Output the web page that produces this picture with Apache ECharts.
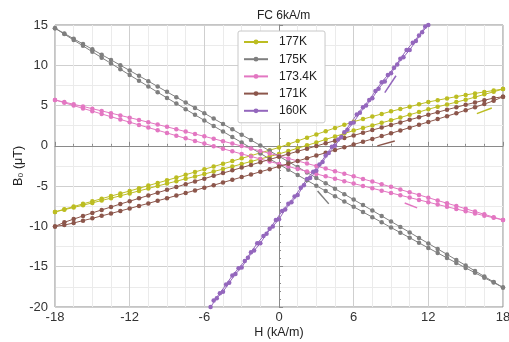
<!DOCTYPE html>
<html>
<head>
<meta charset="utf-8">
<script src="https://cdn.jsdelivr.net/npm/echarts@6/dist/echarts.min.js"></script>
<style>html,body{margin:0;padding:0;background:#fff}#c{width:509px;height:342px}</style>
</head>
<body>
<div id="c"></div>
<script>
// ---- data (H in kA/m, B0 in µT) ----
const H = [-18,-17.25,-16.5,-15.75,-15,-14.25,-13.5,-12.75,-12,-11.25,-10.5,-9.75,-9,-8.25,-7.5,-6.75,-6,-5.25,-4.5,-3.75,-3,-2.25,-1.5,-0.75,0,0.75,1.5,2.25,3,3.75,4.5,5.25,6,6.75,7.5,8.25,9,9.75,10.5,11.25,12,12.75,13.5,14.25,15,15.75,16.5,17.25,18];

const B177_up = [-8.20,-7.86,-7.53,-7.20,-6.88,-6.56,-6.23,-5.92,-5.60,-5.27,-4.93,-4.60,-4.28,-3.93,-3.59,-3.24,-2.90,-2.57,-2.22,-1.89,-1.55,-1.22,-0.87,-0.54,-0.20,0.21,0.61,1.02,1.42,1.82,2.22,2.61,3.00,3.32,3.64,3.96,4.28,4.57,4.86,5.16,5.45,5.67,5.89,6.11,6.32,6.51,6.69,6.87,7.05];
const B177_dn = [-8.20,-7.92,-7.65,-7.36,-7.08,-6.78,-6.49,-6.20,-5.90,-5.59,-5.29,-4.98,-4.68,-4.39,-4.09,-3.80,-3.50,-3.19,-2.88,-2.57,-2.25,-1.94,-1.63,-1.32,-1.00,-0.65,-0.29,0.06,0.42,0.80,1.16,1.53,1.90,2.22,2.54,2.86,3.18,3.51,3.86,4.20,4.55,4.85,5.13,5.43,5.72,6.05,6.39,6.71,7.05];

const B175_up = [14.60,13.95,13.29,12.64,11.98,11.32,10.67,10.01,9.35,8.69,8.03,7.36,6.70,6.04,5.38,4.71,4.05,3.38,2.72,2.05,1.38,0.72,0.05,-0.62,-1.29,-1.96,-2.63,-3.30,-3.98,-4.65,-5.32,-6.00,-6.67,-7.35,-8.02,-8.70,-9.38,-10.06,-10.74,-11.43,-12.11,-12.79,-13.47,-14.16,-14.84,-15.52,-16.21,-16.89,-17.58];
const B175_dn = [14.60,13.87,13.13,12.41,11.67,10.95,10.23,9.51,8.79,8.08,7.37,6.65,5.95,5.25,4.55,3.85,3.16,2.46,1.78,1.09,0.41,-0.26,-0.94,-1.62,-2.29,-2.96,-3.62,-4.28,-4.95,-5.61,-6.26,-6.92,-7.56,-8.21,-8.85,-9.49,-10.13,-10.77,-11.40,-12.04,-12.67,-13.29,-13.91,-14.53,-15.15,-15.75,-16.37,-16.97,-17.58];

const B173_up = [5.70,5.43,5.16,4.89,4.61,4.34,4.06,3.78,3.50,3.22,2.93,2.64,2.36,2.06,1.77,1.47,1.18,0.88,0.58,0.28,-0.02,-0.33,-0.63,-0.94,-1.25,-1.56,-1.87,-2.19,-2.50,-2.82,-3.14,-3.46,-3.78,-4.11,-4.43,-4.76,-5.09,-5.43,-5.76,-6.09,-6.43,-6.78,-7.12,-7.46,-7.81,-8.15,-8.50,-8.85,-9.20];
const B173_dn = [5.70,5.35,5.00,4.65,4.31,3.96,3.62,3.28,2.94,2.60,2.27,1.94,1.60,1.26,0.93,0.61,0.28,-0.04,-0.36,-0.68,-1.00,-1.31,-1.63,-1.94,-2.25,-2.56,-2.87,-3.17,-3.48,-3.78,-4.08,-4.38,-4.68,-4.97,-5.27,-5.56,-5.85,-6.13,-6.42,-6.71,-6.99,-7.28,-7.56,-7.84,-8.11,-8.39,-8.66,-8.93,-9.20];

const B171_up = [-10.00,-9.49,-9.09,-8.70,-8.32,-7.95,-7.59,-7.22,-6.87,-6.51,-6.16,-5.81,-5.46,-5.11,-4.75,-4.41,-4.07,-3.72,-3.38,-3.04,-2.70,-2.37,-2.02,-1.69,-1.35,-1.01,-0.68,-0.35,-0.02,0.32,0.64,0.98,1.29,1.63,1.96,2.27,2.60,2.91,3.24,3.55,3.87,4.18,4.49,4.79,5.10,5.38,5.67,5.93,6.10];
const B171_dn = [-10.00,-9.83,-9.57,-9.28,-9.00,-8.69,-8.39,-8.08,-7.77,-7.45,-7.14,-6.81,-6.50,-6.17,-5.85,-5.53,-5.19,-4.88,-4.54,-4.22,-3.88,-3.55,-3.22,-2.89,-2.55,-2.21,-1.88,-1.53,-1.20,-0.86,-0.52,-0.18,0.17,0.51,0.86,1.21,1.56,1.91,2.26,2.61,2.97,3.32,3.69,4.05,4.42,4.80,5.19,5.59,6.10];

const H160_up = [-5.5,-5,-4.5,-4,-3.5,-3,-2.5,-2,-1.5,-1,-0.5,0,0.5,1,1.5,2,2.5,3,3.5,4,4.5,5,5.5,6,6.5,7,7.5,8,8.5,9,9.5,10,10.5,11,11.5,12];
const B160_up = [-20.0,-18.9,-18.1,-17.0,-15.9,-15.1,-13.9,-13.0,-12.1,-10.9,-10.0,-9.1,-7.9,-7.0,-6.1,-4.9,-4.0,-3.1,-2.0,-0.9,0.0,1.1,2.0,2.9,4.1,5.0,5.9,7.1,8.0,9.0,10.1,11.0,11.9,13.0,14.1,15.0];
const H160_dn = [-5.25,-4.75,-4.25,-3.75,-3.25,-2.75,-2.25,-1.75,-1.25,-0.75,-0.25,0.25,0.75,1.25,1.75,2.25,2.75,3.25,3.75,4.25,4.75,5.25,5.75,6.25,6.75,7.25,7.75,8.25,8.75,9.25,9.75,10.25,10.75,11.25,11.75];
const B160_dn = [-19.2,-18.3,-17.2,-16.1,-15.2,-14.3,-13.2,-12.1,-11.2,-10.3,-9.2,-8.1,-7.2,-6.3,-5.2,-4.1,-3.2,-2.3,-1.2,-0.1,0.8,1.7,2.8,3.9,4.8,5.7,6.8,7.9,8.8,9.7,10.8,11.9,12.8,13.7,14.8];

const names = ['177K','175K','173.4K','171K','160K'];
const colors = ['#bcbd22','#7f7f7f','#e377c2','#8c564b','#9467bd'];

// direction arrows [from H, from B, to H, to B]
const arrow177 = [15.9, 4.0, 17.1, 4.7];
const arrow175 = [3.1, -5.6, 4.0, -7.2];
const arrow173 = [10.1, -7.1, 11.1, -7.7];
const arrow171 = [7.9, 0.0, 9.3, 0.6];
const arrow160 = [8.5, 6.6, 9.4, 8.7];

const xTicks = [-18,-12,-6,0,6,12,18];
const yTicks = [-20,-15,-10,-5,0,5,10,15];

const zip = (xs, ys) => xs.map((x, i) => [x, ys[i]]);
const FONT = 'Liberation Sans, Arial, sans-serif';
const AX = '#8a8a8a';
const MAJOR = '#cfcfcf';
const MINOR = '#ebebeb';

function branch(name, color, xs, ys, arrow) {
  const s = {
    type: 'line', name: name, data: zip(xs, ys),
    xAxisIndex: 0, yAxisIndex: 0,
    symbol: 'circle', symbolSize: 4.5, showSymbol: true,
    lineStyle: {width: 1, color: color},
    itemStyle: {color: color},
    clip: true, z: 2
  };
  if (arrow) {
    s.markLine = {
      silent: true, symbol: ['none', 'arrow'], symbolSize: [0, 5],
      label: {show: false},
      lineStyle: {color: color, width: 1.5, type: 'solid'},
      data: [[{coord: [arrow[0], arrow[1]]}, {coord: [arrow[2], arrow[3]]}]]
    };
  }
  return s;
}

const series = [
  branch(names[0], colors[0], H, B177_up, null),
  branch(names[0], colors[0], H, B177_dn, arrow177),
  branch(names[1], colors[1], H, B175_up, null),
  branch(names[1], colors[1], H, B175_dn, arrow175),
  branch(names[2], colors[2], H, B173_up, null),
  branch(names[2], colors[2], H, B173_dn, arrow173),
  branch(names[3], colors[3], H, B171_up, null),
  branch(names[3], colors[3], H, B171_dn, arrow171),
  branch(names[4], colors[4], H160_up, B160_up, arrow160),
  branch(names[4], colors[4], H160_dn, B160_dn, null)
];

const gridPos = {left: 55, right: 6, top: 25, bottom: 35, outerBoundsMode: 'none', containLabel: false};
const chart = echarts.init(document.getElementById('c'), null, {renderer: 'canvas'});
chart.setOption({
  animation: false,
  backgroundColor: '#fff',
  textStyle: {fontFamily: FONT},
  title: {
    text: 'FC 6kA/m', left: 252, top: 5,
    textStyle: {fontSize: 12, fontWeight: 'normal', color: '#222', fontFamily: FONT}
  },
  legend: {
    data: names, orient: 'vertical', left: 238, top: 31,
    backgroundColor: '#fff', borderColor: '#c8c8c8', borderWidth: 1, borderRadius: 2,
    padding: [5, 8, 6, 5], itemWidth: 24, itemHeight: 6, itemGap: 5.2,
    textStyle: {fontSize: 12, color: '#222', fontFamily: FONT, padding: [0, 0, 0, 6]}
  },
  grid: [
    Object.assign({show: true, borderColor: AX, borderWidth: 1, backgroundColor: 'transparent'}, gridPos),
    Object.assign({show: false}, gridPos)
  ],
  xAxis: [{
    gridIndex: 0, type: 'value', min: xTicks[0], max: xTicks[xTicks.length - 1], interval: 6,
    name: 'H (kA/m)', nameLocation: 'middle', nameGap: 19, nameMoveOverlap: false,
    nameTextStyle: {fontSize: 12.5, color: '#222', fontFamily: FONT},
    axisLine: {show: true, lineStyle: {color: AX}},
    axisTick: {show: true, inside: true, length: 4, lineStyle: {color: AX}},
    minorTick: {show: true, splitNumber: 4, length: 2, lineStyle: {color: AX}},
    axisLabel: {fontSize: 13, color: '#333', margin: 4, fontFamily: FONT},
    splitLine: {show: true, lineStyle: {color: MAJOR, width: 1}},
    minorSplitLine: {show: true, lineStyle: {color: MINOR, width: 1}}
  }, {
    gridIndex: 1, type: 'value', min: xTicks[0], max: xTicks[xTicks.length - 1], interval: 6, show: false
  }],
  yAxis: [{
    gridIndex: 0, type: 'value', min: yTicks[0], max: yTicks[yTicks.length - 1], interval: 5,
    name: 'B\u2080 (\u03bcT)', nameLocation: 'middle', nameGap: 29.5, nameMoveOverlap: false,
    nameTextStyle: {fontSize: 12.5, color: '#222', fontFamily: FONT},
    axisLine: {show: true, lineStyle: {color: AX}},
    axisTick: {show: true, inside: true, length: 4, lineStyle: {color: AX}},
    minorTick: {show: true, splitNumber: 5, length: 2, lineStyle: {color: AX}},
    axisLabel: {fontSize: 13, color: '#333', margin: 7, fontFamily: FONT},
    splitLine: {show: false},
    minorSplitLine: {show: false}
  }, {
    // horizontal grid: major every 5, minor every 2.5
    gridIndex: 1, type: 'value', min: yTicks[0], max: yTicks[yTicks.length - 1], interval: 2.5,
    axisLine: {show: false}, axisLabel: {show: false}, axisTick: {show: false},
    minorTick: {show: false},
    splitLine: {show: true, lineStyle: {color: [MAJOR, MINOR], width: 1}},
    minorSplitLine: {show: false}
  }],
  series: series
});
</script>
</body>
</html>
